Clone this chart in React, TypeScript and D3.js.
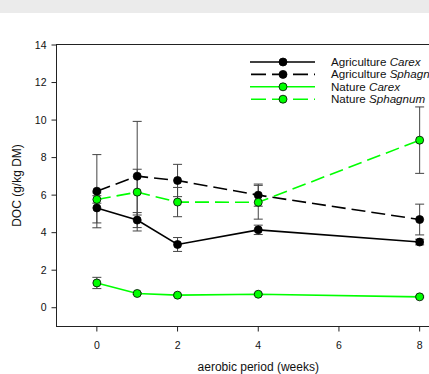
import React from "react"
import * as d3 from "d3"

const weeks = [0, 1, 2, 4, 8]
const agCarex = [5.32, 4.67, 3.37, 4.15, 3.5]
const agCarexErr = [0.8, 0.4, 0.37, 0.25, 0.15]
const agSphagnum = [6.21, 7.01, 6.78, 6.0, 4.7]
const agSphagnumErr = [1.95, 2.92, 0.86, 0.59, 0.82]
const natCarex = [1.32, 0.76, 0.67, 0.72, 0.58]
const natCarexErr = [0.3, 0.05, 0.05, 0.05, 0.05]
const natSphagnum = [5.77, 6.16, 5.63, 5.62, 8.93]
const natSphagnumErr = [0.2, 1.22, 0.78, 0.9, 1.77]

const xTicks = [0, 2, 4, 6, 8]
const yTicks = [0, 2, 4, 6, 8, 10, 12, 14]

const series = [
  { name: "Agriculture ", genus: "Carex", values: agCarex, err: agCarexErr, color: "#000", dash: null },
  { name: "Agriculture ", genus: "Sphagnum", values: agSphagnum, err: agSphagnumErr, color: "#000", dash: "14,6" },
  { name: "Nature ", genus: "Carex", values: natCarex, err: natCarexErr, color: "#00ff00", dash: null },
  { name: "Nature ", genus: "Sphagnum", values: natSphagnum, err: natSphagnumErr, color: "#00ff00", dash: "14,6" },
]

const W = 429
const H = 374
const left = 56.5
const top = 44.5
const right = 460
const bottom = 326.5

export default function App() {
  const x = d3.scaleLinear().domain([-1, 9]).range([left, right])
  const y = d3.scaleLinear().domain([-1, 14]).range([bottom, top + 0.5])
  const line = d3.line<number>().x((_, i) => x(weeks[i])).y(d => y(d))
  const font = "'Liberation Sans', Arial, sans-serif"

  return (
    <svg width={W} height={H} style={{ position: "fixed", left: 0, top: 0 }} fontFamily={font}>
      <rect x={0} y={0} width={W} height={H} fill="#fff" />
      <rect x={0} y={0} width={W} height={13} fill="#ebebeb" />
      <rect x={left} y={top} width={right - left} height={bottom - top} fill="none" stroke="#222" strokeWidth={1} />

      {yTicks.map(t => (
        <g key={t}>
          <line x1={left - 5} x2={left} y1={y(t)} y2={y(t)} stroke="#222" />
          <text x={left - 10} y={y(t)} dy="0.35em" textAnchor="end" fontSize={10.5} fill="#111">{t}</text>
        </g>
      ))}
      {xTicks.map(t => (
        <g key={t}>
          <line x1={x(t)} x2={x(t)} y1={bottom} y2={bottom + 5} stroke="#222" />
          <text x={x(t)} y={bottom + 19} dy="0.35em" textAnchor="middle" fontSize={10.5} fill="#111">{t}</text>
        </g>
      ))}
      <text x={(left + right) / 2} y={371} textAnchor="middle" fontSize={12} fill="#111">aerobic period (weeks)</text>
      <text transform={`translate(21,${(top + bottom) / 2}) rotate(-90)`} textAnchor="middle" fontSize={12} fill="#111">DOC (g/kg DM)</text>

      {series.map((s, si) => (
        <g key={"e" + si}>
          {s.values.map((v, i) => {
            const cx = x(weeks[i])
            const hi = y(v + s.err[i])
            const lo = y(v - s.err[i])
            return (
              <g key={i} stroke="#444" strokeWidth={1}>
                <line x1={cx} x2={cx} y1={hi} y2={lo} />
                <line x1={cx - 4.5} x2={cx + 4.5} y1={hi} y2={hi} />
                <line x1={cx - 4.5} x2={cx + 4.5} y1={lo} y2={lo} />
              </g>
            )
          })}
        </g>
      ))}

      {series.map((s, si) => (
        <g key={"s" + si}>
          <path d={line(s.values) || ""} fill="none" stroke={s.color} strokeWidth={1.6} strokeDasharray={s.dash || undefined} />
          {s.values.map((v, i) => (
            <circle key={i} cx={x(weeks[i])} cy={y(v)} r={4} fill={s.color} stroke="#000" strokeWidth={0.8} />
          ))}
        </g>
      ))}

      <g>
        {series.map((s, si) => {
          const ly = 62 + si * 12.4
          return (
            <g key={"l" + si}>
              <line x1={250} x2={315} y1={ly} y2={ly} stroke={s.color} strokeWidth={1.6} strokeDasharray={s.dash ? "15,6" : undefined} strokeDashoffset={s.dash ? -1 : 0} />
              <circle cx={283} cy={ly} r={4} fill={s.color} stroke="#000" strokeWidth={0.8} />
              <text x={331} y={ly} dy="0.35em" fontSize={11.6} fill="#111">
                {s.name}<tspan fontStyle="italic">{s.genus}</tspan>
              </text>
            </g>
          )
        })}
      </g>
    </svg>
  )
}
